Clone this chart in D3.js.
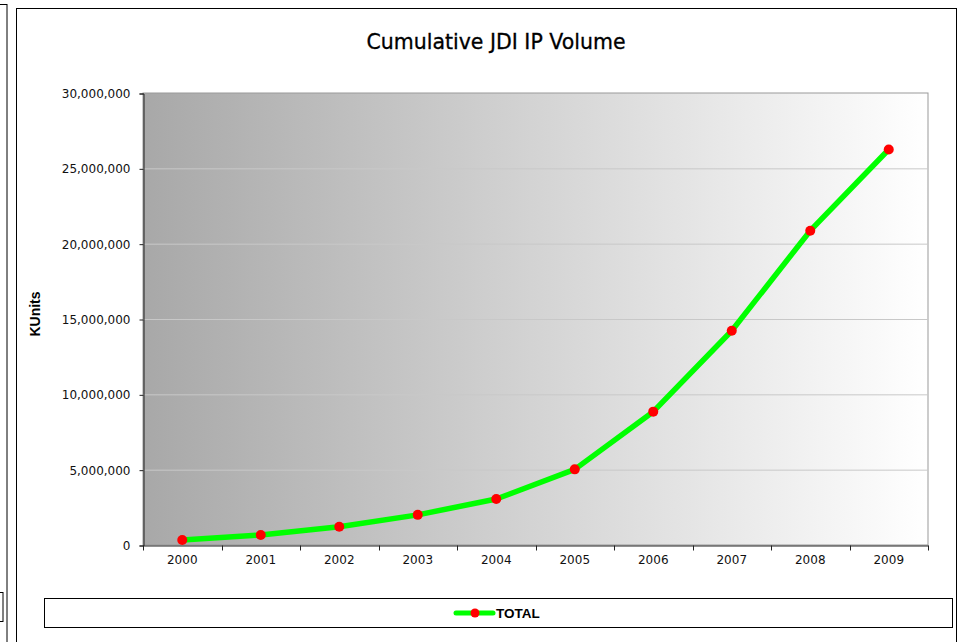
<!DOCTYPE html>
<html>
<head>
<meta charset="utf-8">
<script src="https://cdn.jsdelivr.net/npm/d3@7"></script>
<style>
  body { margin: 0; background: #fff; }
  text { font-family: "Liberation Sans", Arial, sans-serif; }
</style>
</head>
<body>
<svg id="chart" width="961" height="642"></svg>
<script>
// data
var years = ["2000", "2001", "2002", "2003", "2004", "2005", "2006", "2007", "2008", "2009"];
var total = [330000, 660000, 1210000, 2000000, 3050000, 5020000, 8850000, 14220000, 20860000, 26250000];
var yTicks = [0, 5000000, 10000000, 15000000, 20000000, 25000000, 30000000];

var svg = d3.select("#chart");
var plot = {"x": 143, "y": 93, "width": 785, "height": 452};
var tickFont = "'DejaVu Sans', Verdana, sans-serif";

// neighbouring chart edge on the left
svg.append("rect").attr("x", -10).attr("y", 4.5).attr("width", 17).attr("height", 660)
    .attr("fill", "none").attr("stroke", "#000").attr("stroke-width", 1);
svg.append("rect").attr("x", -10).attr("y", 592.5).attr("width", 13).attr("height", 29)
    .attr("fill", "none").attr("stroke", "#000").attr("stroke-width", 1);

// chart frame
svg.append("rect").attr("x", 16.5).attr("y", 8.5).attr("width", 940).attr("height", 660)
    .attr("fill", "#fff").attr("stroke", "#000").attr("stroke-width", 1);

svg.append("text")
    .attr("x", 496).attr("y", 49)
    .attr("text-anchor", "middle")
    .attr("font-size", "20.5px")
    .style("font-family", tickFont)
    .style("stroke", "#000").style("stroke-width", 0.3)
    .text("Cumulative JDI IP Volume");

var grad = svg.append("defs").append("linearGradient")
    .attr("id", "bg").attr("x1", "0%").attr("x2", "100%").attr("y1", "0%").attr("y2", "0%");
grad.append("stop").attr("offset", "0%").attr("stop-color", "#a8a8a8");
grad.append("stop").attr("offset", "100%").attr("stop-color", "#ffffff");

var x = d3.scaleBand().domain(years).range([plot.x, plot.x + plot.width]);
var y = d3.scaleLinear().domain([0, 30000000]).range([plot.y + plot.height, plot.y]);

svg.append("rect")
    .attr("x", plot.x).attr("y", plot.y).attr("width", plot.width).attr("height", plot.height)
    .attr("fill", "url(#bg)").attr("stroke", "#999").attr("stroke-width", 1);

// gridlines
svg.append("g").selectAll("line").data(yTicks.slice(1, -1)).enter().append("line")
    .attr("x1", plot.x).attr("x2", plot.x + plot.width)
    .attr("y1", d => y(d) + 0.5).attr("y2", d => y(d) + 0.5)
    .attr("stroke", "#c8c8c8").attr("stroke-width", 1);

// y axis
var yAxis = d3.axisLeft(y).tickValues(yTicks).tickSize(4).tickPadding(9)
    .tickFormat(d3.format(","));
var gy = svg.append("g").attr("transform", "translate(" + (plot.x + 0.5) + ",0.5)").call(yAxis);
gy.select(".domain").attr("stroke", "#222");
gy.selectAll(".tick line").attr("stroke", "#222");
gy.selectAll("text").attr("font-size", "12px").attr("fill", "#111")
    .style("font-family", tickFont);

// x axis: ticks between categories
var xAxis = d3.axisBottom(x).tickSize(0).tickPadding(10);
var gx = svg.append("g").attr("transform", "translate(0," + (plot.y + plot.height + 0.5) + ")").call(xAxis);
gx.select(".domain").attr("stroke", "#222");
gx.selectAll("text").attr("font-size", "12px").attr("fill", "#111")
    .style("font-family", tickFont);
gx.selectAll(".sep").data(years.concat(["end"])).enter().append("line")
    .attr("class", "sep")
    .attr("x1", (d, i) => Math.round(plot.x + i * x.bandwidth()) + 0.5)
    .attr("x2", (d, i) => Math.round(plot.x + i * x.bandwidth()) + 0.5)
    .attr("y1", 0).attr("y2", 5)
    .attr("stroke", "#222");

svg.append("text")
    .attr("transform", "translate(40," + 314 + ") rotate(-90)")
    .attr("text-anchor", "middle")
    .attr("font-size", "14px").attr("font-weight", "bold")
    .text("KUnits");

// series
var line = d3.line()
    .x((d, i) => x(years[i]) + x.bandwidth() / 2)
    .y(d => y(d));
svg.append("path").datum(total)
    .attr("d", line)
    .attr("fill", "none").attr("stroke", "#00ff00").attr("stroke-width", 5.5)
    .attr("stroke-linejoin", "round");
svg.append("g").selectAll("circle").data(total).enter().append("circle")
    .attr("cx", (d, i) => x(years[i]) + x.bandwidth() / 2)
    .attr("cy", d => y(d))
    .attr("r", 5)
    .attr("fill", "#ff0000");

// legend
var lg = svg.append("g");
lg.append("rect").attr("x", 44.5).attr("y", 598.5).attr("width", 908).attr("height", 29)
    .attr("fill", "#fff").attr("stroke", "#000").attr("stroke-width", 1);
lg.append("line").attr("x1", 456).attr("x2", 493).attr("y1", 613).attr("y2", 613)
    .attr("stroke", "#00ff00").attr("stroke-width", 5).attr("stroke-linecap", "round");
lg.append("circle").attr("cx", 475).attr("cy", 613).attr("r", 4.5).attr("fill", "#ff0000");
lg.append("text").attr("x", 496).attr("y", 618)
    .attr("font-size", "13.5px").attr("font-weight", "bold")
    .text("TOTAL");
</script>
</body>
</html>
